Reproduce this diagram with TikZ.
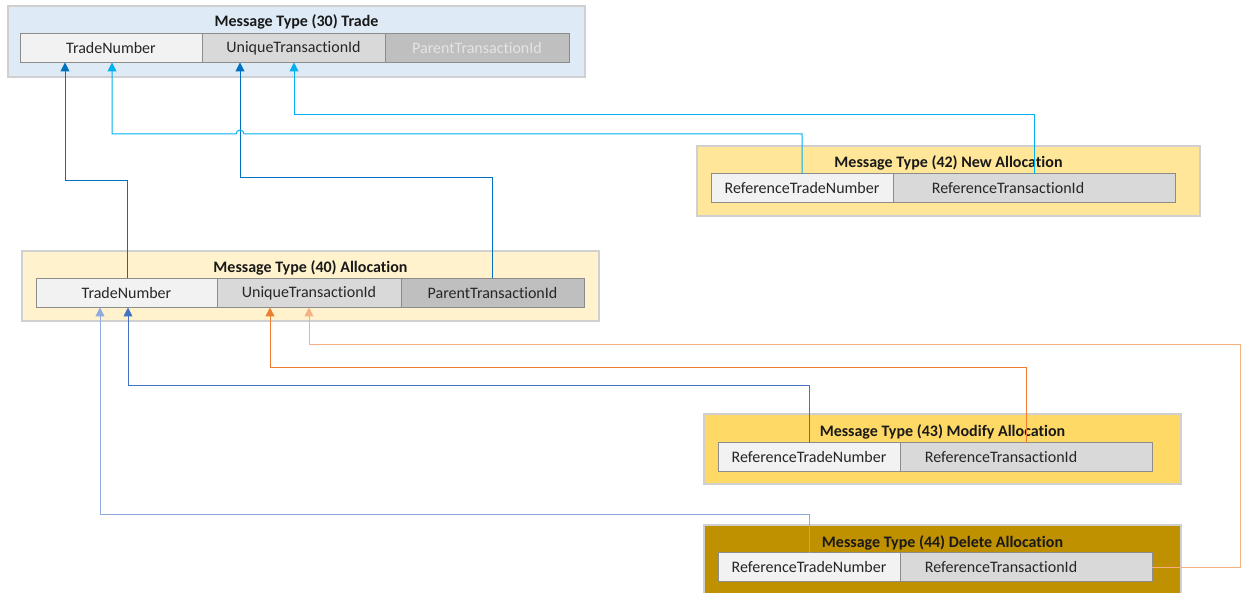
\documentclass[tikz,border=0pt]{standalone}
\usepackage{fontspec}
\setmainfont[Ligatures={NoCommon}]{Carlito}
\usetikzlibrary{arrows.meta,calc}
\definecolor{tradebg}{HTML}{DEEBF7}
\definecolor{allocbg}{HTML}{FFF2CC}
\definecolor{newbg}{HTML}{FFE699}
\definecolor{modbg}{HTML}{FFD966}
\definecolor{delbg}{HTML}{BF9000}
\definecolor{boxline}{HTML}{D0D0D0}
\definecolor{fieldline}{HTML}{8C8C8C}
\definecolor{fa}{HTML}{F2F2F2}
\definecolor{fb}{HTML}{D9D9D9}
\definecolor{fc}{HTML}{BFBFBF}
\definecolor{txt}{HTML}{262626}
\definecolor{ghost}{HTML}{E4E4E4}
\definecolor{dkblue}{HTML}{0070C0}
\definecolor{ltblue}{HTML}{00B0F0}
\definecolor{medblue}{HTML}{4472C4}
\definecolor{paleblue}{HTML}{8FAADC}
\definecolor{dkorange}{HTML}{ED7D31}
\definecolor{ltorange}{HTML}{F4B183}
\tikzset{
  outerbox/.style={draw=boxline, line width=2pt, inner sep=0pt, outer sep=0pt, minimum height=70pt},
  field/.style={draw=fieldline, line width=1pt, inner sep=0pt, outer sep=0pt, minimum height=29pt, text=txt},
  boxtitle/.style={font=\fontsize{16}{19}\selectfont\bfseries, inner sep=0pt, text=black!90},
  link/.style={line width=1pt, -{Triangle[width=9pt,length=9pt]}},
}
\begin{document}
\begin{tikzpicture}[x=1pt,y=-1pt,font=\fontsize{16}{19}\selectfont]
\useasboundingbox (0,0) rectangle (1241,593);
\fill[white] (0,0) rectangle (1241,593);

% Trade
\node[outerbox, fill=tradebg, minimum width=577pt, minimum height=71pt] (trade) at (296.5,41.5) {};
\node[boxtitle] (tradeT) at (296.5,22) {Message Type (30) Trade};
\node[field, fill=fa, minimum width=182pt] (tTN) at (111,48) {TradeNumber};
\node[field, fill=fb, minimum width=183pt] (tUTI) at (293.5,48) {UniqueTransactionId};
\node[field, fill=fc, minimum width=184pt, text=ghost] (tPTI) at (477,48) {ParentTransactionId};

% Allocation
\node[outerbox, fill=allocbg, minimum width=577pt] (alloc) at (310.5,286) {};
\node[boxtitle] (allocT) at (310.5,268) {Message Type (40) Allocation};
\node[field, fill=fa, minimum width=181pt] (aTN) at (126.5,293) {TradeNumber};
\node[field, fill=fb, minimum width=184pt] (aUTI) at (309,293) {UniqueTransactionId};
\node[field, fill=fc, minimum width=183pt] (aPTI) at (492.5,293) {ParentTransactionId};

% New Allocation
\node[outerbox, fill=newbg, minimum width=503pt] (newa) at (948.5,181) {};
\node[boxtitle] (newaT) at (948.5,163) {Message Type (42) New Allocation};
\node[field, fill=fa, minimum width=182pt] (nRTN) at (802,188.5) {ReferenceTradeNumber};
\node[field, fill=fb, minimum width=282pt] (nRTI) at (1034,188.5) {\hspace*{-52pt}ReferenceTransactionId};

% Modify Allocation
\node[outerbox, fill=modbg, minimum width=477pt] (moda) at (942.5,449) {};
\node[boxtitle] (modaT) at (942.5,432) {Message Type (43) Modify Allocation};
\node[field, fill=fa, minimum width=182pt] (mRTN) at (809,457) {ReferenceTradeNumber};
\node[field, fill=fb, minimum width=252pt] (mRTI) at (1026,457) {\hspace*{-50pt}ReferenceTransactionId};

% Delete Allocation
\node[outerbox, fill=delbg, minimum width=477pt] (dela) at (942.5,560) {};
\node[boxtitle] (delaT) at (942.5,543) {Message Type (44) Delete Allocation};
\node[field, fill=fa, minimum width=182pt] (dRTN) at (809,567) {ReferenceTradeNumber};
\node[field, fill=fb, minimum width=252pt] (dRTI) at (1026,567) {\hspace*{-50pt}ReferenceTransactionId};

% Connectors to Trade
\draw[link, dkblue] ($(aTN.north west)+(91.5,0)$) |- (65,181) -- ($(tTN.south west)+(45,0)$);
\draw[link, dkblue] (aPTI.north) |- (240,178) -- ($(tUTI.south west)+(38,0)$);
\draw[link, ltblue] (nRTI.north) |- (294,115) -- ($(tUTI.south west)+(92,0)$);
\draw[link, ltblue] (nRTN.north) |- (244,134) arc[start angle=0, end angle=-180, radius=4] -- (112,134) -- ($(tTN.south west)+(92,0)$);

% Connectors to Allocation
\draw[link, medblue] (mRTN.north) |- (128,385) -- ($(aTN.south west)+(92,0)$);
\draw[link, paleblue] (dRTN.north) |- (100,514) -- ($(aTN.south west)+(64,0)$);
\draw[link, dkorange] (mRTI.north) |- (270,367) -- ($(aUTI.south west)+(53,0)$);
\draw[link, ltorange] (dRTI.east) -| (1240,344) -| (aUTI.south);
\end{tikzpicture}
\end{document}
